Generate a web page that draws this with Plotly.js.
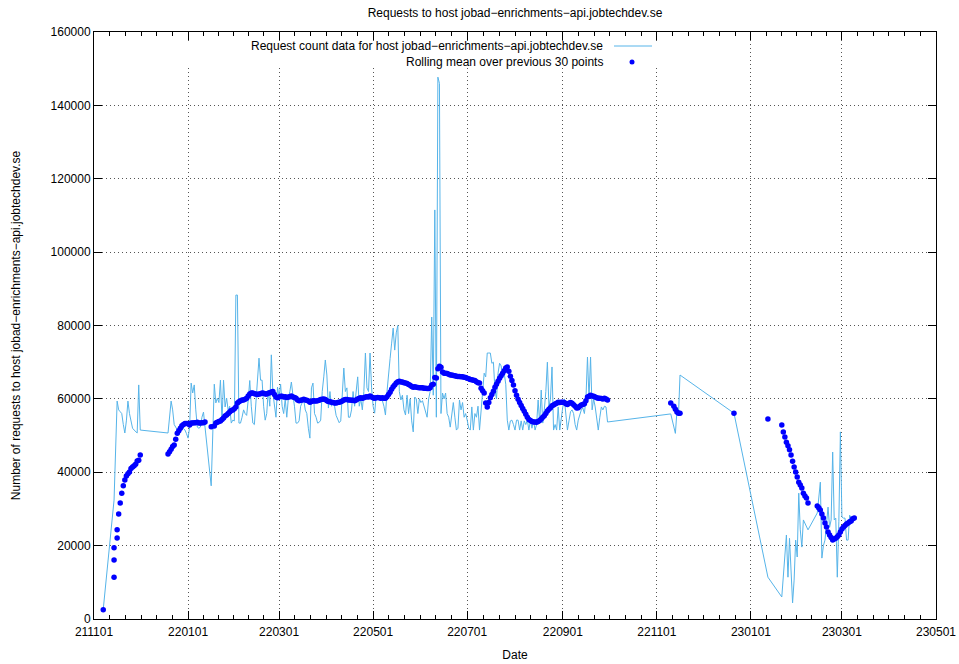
<!DOCTYPE html>
<html>
<head>
<meta charset="utf-8">
<script src="https://cdn.plot.ly/plotly-3.0.1.min.js"></script>
<style>
html,body{margin:0;padding:0;background:#fff;}
#chart{width:959px;height:664px;}
</style>
</head>
<body>
<div id="chart"></div>
<script>
// ---- data (dates as YYMMDD, as in the tick labels) ----
const dates = [
'211107','211114','211114','211114','211116','211116','211117','211118','211119','211120',
'211121','211122','211123','211124','211125','211126','211127','211128','211129','211130',
'211201',
'211219','211220','211221','211222','211223','211224','211225','211226','211227','211228',
'211229','211230','211231',
'220101','220102','220103','220104','220105','220106','220107','220108','220109','220110',
'220111','220112','220116','220118','220119','220120','220121','220122','220123','220124',
'220125','220126','220127','220128','220129','220130','220131',
'220201','220202','220203','220204','220205','220206','220207','220208','220209','220210',
'220211','220212','220213','220214','220215','220216','220217','220218','220219','220220',
'220221','220222','220223','220224','220225','220226','220227','220228',
'220301','220302','220303','220304','220305','220306','220307','220308','220309','220310',
'220311','220312','220313','220314','220315','220316','220317','220318','220319','220320',
'220321','220322','220323','220324','220325','220326','220327','220328','220329','220330',
'220331',
'220401','220402','220403','220404','220405','220406','220407','220408','220409','220410',
'220411','220412','220413','220414','220415','220416','220417','220418','220419','220420',
'220421','220422','220423','220424','220425','220426','220427','220428','220429','220430',
'220501','220502','220503','220504','220505','220506','220507','220508','220509','220510',
'220511','220512','220513','220514','220515','220516','220517','220518','220519','220520',
'220521','220522','220523','220524','220525','220526','220527','220528','220529','220530',
'220531',
'220601','220602','220603','220604','220605','220606','220607','220608','220609','220610',
'220611','220612','220613','220614','220615','220616','220617','220618','220619','220620',
'220621','220622','220623','220624','220625','220626','220627','220628','220629','220630',
'220701','220702','220703','220704','220705','220706','220707','220708','220709','220710',
'220711','220712','220713','220714','220715','220716','220717','220718','220719','220720',
'220721','220722','220723','220724','220725','220726','220727','220728','220729','220730',
'220731',
'220801','220802','220803','220804','220805','220806','220807','220808','220809','220810',
'220811','220812','220813','220814','220815','220816','220817','220818','220819','220820',
'220821','220822','220823','220824','220825','220826','220827','220828','220829','220830',
'220831',
'220901','220902','220903','220904','220905','220906','220907','220908','220909','220910',
'220911','220912','220913','220914','220915','220916','220917','220918','220919','220920',
'220921','220922','220923','220924','220925','220926','220927','220928','220929','220930',
'221110','221112','221113','221114','221115','221116',
'221221',
'230112','230121','230122','230123','230124','230125','230126','230127','230128','230129',
'230130','230131',
'230201','230202','230203','230204','230205','230206','230207',
'230213','230214','230215','230216','230217','230218','230219','230220','230221','230222',
'230223','230224','230225','230226','230227','230228',
'230301','230302','230303','230304','230305','230306','230307','230308','230309'
];

const requestCounts = [
2700,null,null,32400,null,59400,57000,56500,56000,53000,
50700,54000,59400,56000,53400,52000,51500,51000,50700,63800,
51500,
50700,55000,59400,57000,53000,52300,51500,52000,52300,52300,
52000,51500,50500,
49300,52300,64300,61600,63800,57000,52300,52000,52300,55000,
56400,52300,36300,64000,58900,60200,59000,65100,54200,65100,
57800,60200,56900,58000,53400,54200,54000,
88300,88300,53400,53400,55000,57000,56000,55500,59700,65000,
58000,53400,53000,59700,65000,71100,65100,65100,58000,54200,
56000,62400,58000,72000,61600,58000,55000,63200,
60500,64000,58000,56000,60000,55000,60000,62000,64600,61000,
58000,53400,53400,54000,58000,59000,59700,57000,56000,52000,
49300,63000,64300,56000,55000,53400,53600,54200,62000,66000,
70600,
66500,57500,62000,58000,59500,58000,55500,54200,53500,54000,
60000,68400,62000,63000,55000,55000,57000,62000,58000,62000,
66000,58000,60000,57000,62000,72500,63000,62000,72500,63000,
58000,56100,61000,60000,60500,60000,59500,58000,55600,62000,
67900,71000,75200,79300,73300,78000,80000,62000,59700,61000,
57000,55600,61000,56000,60000,54000,51000,60500,60000,56000,
60000,
59000,59500,58000,56000,55000,60000,62000,82300,61000,111500,
55000,147700,146000,56000,61600,60000,61600,56000,55000,52300,
56000,59000,55000,51500,52000,59700,57000,59000,55000,56000,
54200,52000,51500,57800,51500,56000,55000,58000,51500,56000,
62400,67000,66000,72500,72500,72500,69700,70000,62400,60000,
67000,69700,69000,66000,67000,64000,54200,51500,54000,54200,
53000,
51500,54200,54200,51500,54000,51500,54000,53000,54200,51500,
54200,52000,54200,51500,53000,59700,53400,62400,53400,57000,
62000,70000,58000,60000,68700,51500,53000,51500,57800,51500,
55000,
57800,60000,55000,51500,54000,56500,57000,56000,53000,51500,
54200,56000,57000,57500,56000,60000,71400,60000,71400,57000,
60000,57800,55000,51500,55000,57800,57000,58000,57800,53700,
55900,52000,50600,56500,55500,66500,
56100,
11400,6000,null,null,22900,11400,22000,14200,4400,10600,
21500,16900,
34300,24300,19600,27000,26000,25000,24300,
28900,33300,37300,16600,20000,21500,26000,30500,25000,27000,
45500,27000,27500,11400,26500,51000,
27800,27500,27500,21500,21500,28300,27500,27800,27500
];

const rollingMean = [
2500,11400,16100,19400,22100,24300,28600,31600,34300,36300,
37900,39000,39600,40100,41000,41400,41800,42200,43100,43300,
44700,
45000,45600,46300,47000,47400,49000,50600,51300,52000,52700,
53000,53300,53300,
53300,52900,53400,53400,53500,53500,53600,53400,53400,53500,
53500,53700,52400,52600,53400,53600,53800,54000,54400,54800,
55300,55600,56000,56400,56800,57000,57300,
57800,58900,59200,59500,59700,59700,59900,60200,60800,61300,
61600,61600,61400,61300,61200,61300,61400,61600,61500,61300,
61300,61500,61700,61900,62000,61200,60500,60300,
60500,60700,60700,60500,60600,60400,60500,60600,60800,60500,
60400,60200,59700,59500,59600,59700,59900,59700,59600,59400,
59100,59300,59500,59400,59400,59500,59600,59800,59900,60000,
59800,
59500,59300,59200,59100,59000,58900,58900,59000,59100,59200,
59400,59700,59800,59800,59700,59700,59600,59600,59500,59700,
60000,60200,60300,60200,60300,60500,60600,60500,60800,60500,
60300,60200,60300,60400,60300,60200,60300,60200,60200,60600,
61200,61800,62600,63300,63800,64300,64700,64800,64600,64600,
64400,64300,64200,63900,63700,63400,63200,63300,63200,63100,
63000,
63000,63000,62900,62900,62800,62800,63000,63800,64000,65800,
65700,68200,68900,68600,67300,67000,67000,66900,66700,66500,
66500,66400,66300,66200,66100,66100,66000,66000,65900,65800,
65600,65500,65300,65200,65100,65000,64700,64400,64300,62900,
62200,61600,58900,57800,59000,60300,61200,62100,63200,64000,
64800,65600,66300,67000,67700,68400,68700,67500,66200,65000,
63800,
62200,61000,59900,59000,58200,57400,56600,55800,55000,54400,
54100,53800,53700,53700,53600,53800,54100,54500,55000,55400,
56000,56700,57200,57600,58100,58300,58600,58800,59100,59000,
59100,
59100,59000,58700,58500,58800,59000,58800,58400,58000,57500,
57600,58000,58300,58500,58700,59500,60500,60700,61000,60800,
60700,60500,60300,60200,60200,60100,60000,60200,60000,59700,
58900,58000,57200,56400,56100,56100,
56100,
54500,52900,51000,49600,48200,47200,46100,44700,43000,41400,
40100,38700,
37300,36500,35700,34300,33500,33000,31600,
30800,30300,29700,28600,27500,26200,25100,23700,22900,22200,
21500,21800,22000,22400,22900,23700,
24500,25100,25500,25900,26200,26500,26700,27300,27500
];

const majorTickLabels = ['211101','220101','220301','220501','220701','220901','221101','230101','230301','230501'];
const yTicks = [0,20000,40000,60000,80000,100000,120000,140000,160000];

const titleText = 'Requests to host jobad\u2212enrichments\u2212api.jobtechdev.se';
const yTitleText = 'Number of requests to host jobad\u2212enrichments\u2212api.jobtechdev.se';
const xTitleText = 'Date';
const legendLabels = ['Request count data for host jobad\u2212enrichments\u2212api.jobtechdev.se',
                      'Rolling mean over previous 30 points'];

// ---- helpers ----
const toISO = s => '20' + s.slice(0,2) + '-' + s.slice(2,4) + '-' + s.slice(4,6);
const xDates = dates.map(toISO);
const majorISO = majorTickLabels.map(toISO);
// minor ticks: 5 evenly spaced between consecutive major ticks (gnuplot mxtics 6)
const minorVals = [];
for (let i = 0; i < majorISO.length - 1; i++) {
  const a = Date.parse(majorISO[i] + 'T00:00:00Z'), b = Date.parse(majorISO[i+1] + 'T00:00:00Z');
  for (let k = 1; k < 6; k++) {
    const t = new Date(a + (b - a) * k / 6);
    minorVals.push(t.toISOString().slice(0,19).replace('T',' '));
  }
}

const FONT = 'Liberation Sans, Arial, Helvetica, sans-serif';
const lineColor = '#56b4e9';
const dotColor = '#0000ff';
const gridColor = '#555555';

const traces = [
  {
    type: 'scatter', mode: 'lines', x: xDates, y: requestCounts,
    connectgaps: true, name: legendLabels[0], showlegend: false,
    line: {color: lineColor, width: 1}, hoverinfo: 'x+y'
  },
  {
    type: 'scatter', mode: 'markers', x: xDates, y: rollingMean,
    name: legendLabels[1], showlegend: false,
    marker: {color: dotColor, size: 5.5, line: {width: 0}}, hoverinfo: 'x+y'
  }
];

// legend geometry (paper coords of the plot area 94..936 x 32..619)
const W = 842, H = 587;
const px = x => (x - 94) / W;
const py = y => (619 - y) / H;

const layout = {
  width: 959, height: 664,
  margin: {l: 94, r: 23, t: 32, b: 45, pad: 0},
  paper_bgcolor: '#ffffff', plot_bgcolor: '#ffffff',
  font: {family: FONT, size: 12, color: '#000'},
  showlegend: false,
  title: {text: titleText, font: {family: FONT, size: 12, color: '#000'},
          xref: 'paper', x: 0.5, xanchor: 'center', yref: 'container', y: 1 - 13/664, yanchor: 'middle'},
  xaxis: {
    type: 'date',
    range: [majorISO[0], majorISO[majorISO.length-1]],
    tickmode: 'array', tickvals: majorISO, ticktext: majorTickLabels,
    ticks: 'inside', ticklen: 8, tickwidth: 1, tickcolor: '#000',
    showline: true, linecolor: '#000', linewidth: 1, mirror: 'ticks',
    showgrid: true, gridcolor: gridColor, gridwidth: 1, griddash: '1px,3px',
    zeroline: false, ticklabelstandoff: 2,
    tickfont: {family: FONT, size: 12, color: '#000'},
    minor: {tickmode: 'array', tickvals: minorVals, ticks: 'inside', ticklen: 4, tickcolor: '#000', tickwidth: 1, showgrid: false},
    title: {text: xTitleText, font: {family: FONT, size: 12, color: '#000'}, standoff: 12},
    automargin: false, fixedrange: true
  },
  yaxis: {
    range: [0, 160000],
    tickmode: 'array', tickvals: yTicks, tickformat: 'd',
    ticks: 'inside', ticklen: 8, tickwidth: 1, tickcolor: '#000',
    showline: true, linecolor: '#000', linewidth: 1, mirror: 'ticks',
    showgrid: true, gridcolor: gridColor, gridwidth: 1, griddash: '1px,3px',
    zeroline: false,
    tickfont: {family: FONT, size: 12, color: '#000'},
    title: {text: yTitleText, font: {family: FONT, size: 12, color: '#000'}, standoff: 27},
    automargin: false, fixedrange: true
  },
  shapes: [
    // opaque key box (hides the grid behind the key)
    {type: 'rect', xref: 'paper', yref: 'paper', x0: px(95), x1: px(662), y0: py(68), y1: py(41),
     fillcolor: '#ffffff', line: {width: 0}, layer: 'above'},
    // key sample: line
    {type: 'line', xref: 'paper', yref: 'paper', x0: px(614), x1: px(652), y0: py(46), y1: py(46),
     line: {color: lineColor, width: 1}, layer: 'above'},
    // key sample: dot
    {type: 'circle', xref: 'paper', yref: 'paper', xsizemode: 'pixel', ysizemode: 'pixel',
     xanchor: px(632), yanchor: py(62), x0: -2.5, x1: 2.5, y0: -2.5, y1: 2.5,
     fillcolor: dotColor, line: {width: 0}, layer: 'above'}
  ],
  annotations: [
    {text: legendLabels[0], xref: 'paper', yref: 'paper', x: px(605), y: py(46),
     xanchor: 'right', yanchor: 'middle', showarrow: false, font: {family: FONT, size: 12, color: '#000'}},
    {text: legendLabels[1], xref: 'paper', yref: 'paper', x: px(605), y: py(62),
     xanchor: 'right', yanchor: 'middle', showarrow: false, font: {family: FONT, size: 12, color: '#000'}}
  ]
};

Plotly.newPlot('chart', traces, layout, {staticPlot: true, displayModeBar: false});
</script>
</body>
</html>
